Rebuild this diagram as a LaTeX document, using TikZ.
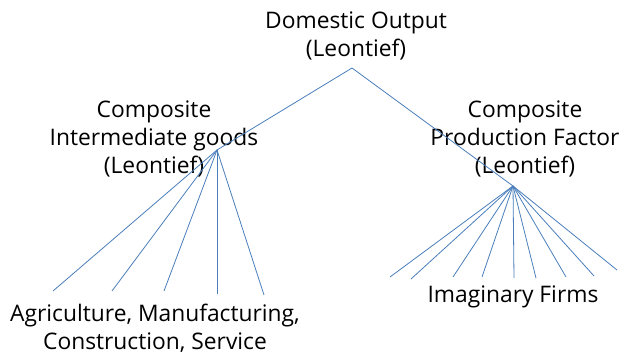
\documentclass[tikz,border=0pt]{standalone}
\usepackage{fontspec}
\setmainfont{Open Sans}
\definecolor{treeblue}{HTML}{4A7EBB}
\tikzset{
  branch/.style={line width=0.8pt, treeblue},
  label/.style={align=center, inner sep=0pt, font=\fontsize{22.8}{28}\selectfont}
}

\begin{document}
\begin{tikzpicture}[x=1pt, y=-1pt]
\useasboundingbox (0,0) rectangle (621,355);
%%%%%%%%%%%%%%%%%%%
% Texts

\node[label] (top) at (356,36) {Domestic Output\\(Leontief)};
\node[label] (inter) at (154,139) {Composite\\Intermediate goods\\(Leontief)};
\node[label] (factor) at (525,139) {Composite\\Production Factor\\(Leontief)};
\node[label] (sectors) at (155,328.5) {Agriculture, Manufacturing,\\Construction, Service};
\node[label] (firms) at (513,297) {Imaginary Firms};

%%%%%%%%%%%%%%%%%%%
% Junctions

\coordinate (apex) at (352,68);
\coordinate (jinter) at (217,150);
\coordinate (jfactor) at (513,186);

\draw [branch] (apex) -- (jinter);
\draw [branch] (apex) -- (jfactor);

%%%%%%%%%%%%%%%%%%%
% Intermediate goods

\foreach \i/\x/\y in {1/53/291, 2/112/291, 3/164/291, 4/217/294, 5/264/295}{
  \coordinate (s\i) at (\x,\y);
  \draw [branch] (jinter) -- (s\i);
}

%%%%%%%%%%%%%%%%%%%
% Imaginary firms

\foreach \i/\x/\y in {1/390/277, 2/411/279, 3/453/277, 4/482/277, 5/514/278, 6/536/278, 7/566/277, 8/594/276, 9/617/270}{
  \coordinate (f\i) at (\x,\y);
  \draw [branch] (jfactor) -- (f\i);
}

\end{tikzpicture}
\end{document}
